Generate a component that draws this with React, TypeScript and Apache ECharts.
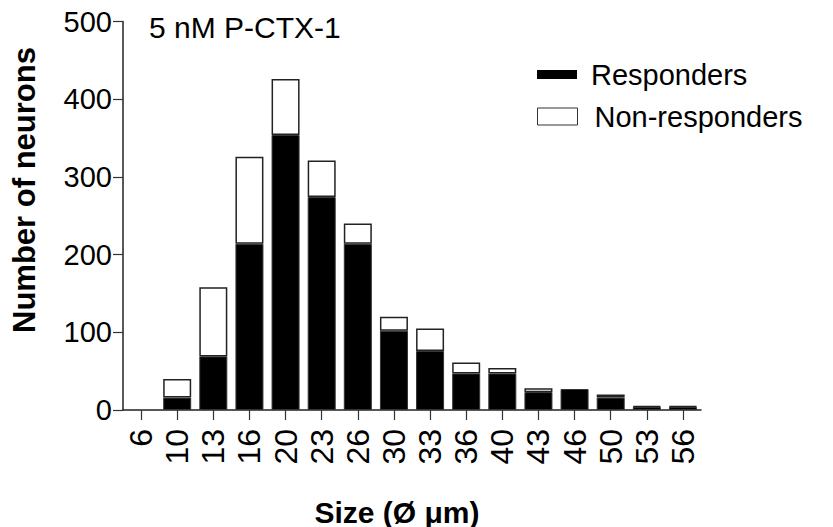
import React, { useEffect, useRef } from "react";
import * as echarts from "echarts";

const categories = ["6", "10", "13", "16", "20", "23", "26", "30", "33", "36", "40", "43", "46", "50", "53", "56"];
const responders = [0, 16, 69, 214, 354, 274, 214, 102, 76, 47, 47, 23, 27, 16, 4, 4];
const nonResponders = [0, 24, 89, 112, 72, 47, 26, 18, 29, 14, 7, 5, 0, 4, 1, 1];
const yTicks = { min: 0, max: 500, interval: 100 };

const FONT = "Liberation Sans, Arial, sans-serif";
const hideZero = (arr: number[]) => arr.map((v) => (v === 0 ? "-" : v));

export default function App() {
  const ref = useRef<HTMLDivElement>(null);
  useEffect(() => {
    document.body.style.margin = "0";
    if (!ref.current) return;
    const chart = echarts.init(ref.current, undefined, { renderer: "svg" });
    chart.setOption({
      animation: false,
      backgroundColor: "#fff",
      title: {
        text: "5 nM P-CTX-1",
        left: 144,
        top: 7,
        textStyle: { fontFamily: FONT, fontSize: 30, fontWeight: "normal", color: "#000" },
      },
      legend: [
        {
          data: [{ name: "Responders", itemStyle: { color: "#000", borderWidth: 0 } }],
          left: 532,
          top: 55,
          itemWidth: 40,
          itemHeight: 9,
          icon: "rect",
          textStyle: { fontFamily: FONT, fontSize: 29, color: "#000", padding: [0, 0, 0, 9] },
        },
        {
          data: ["Non-responders"],
          left: 532,
          top: 97,
          itemWidth: 40,
          itemHeight: 17,
          icon: "rect",
          itemStyle: { borderWidth: 1, borderColor: "#333" },
          textStyle: { fontFamily: FONT, fontSize: 29, color: "#000", padding: [0, 0, 0, 12] },
        },
      ],
      grid: { left: 123, right: 132, top: 21.5, bottom: 117, containLabel: false },
      xAxis: {
        type: "category",
        data: categories,
        axisLine: { show: true, lineStyle: { color: "#222", width: 1.5 } },
        axisTick: { show: true, alignWithLabel: true, length: 10, lineStyle: { color: "#333", width: 1.2 } },
        axisLabel: {
          rotate: 90,
          margin: 19,
          interval: 0,
          fontFamily: FONT,
          fontSize: 32,
          color: "#000",
        },
      },
      yAxis: {
        type: "value",
        min: yTicks.min,
        max: yTicks.max,
        interval: yTicks.interval,
        splitLine: { show: false },
        axisLine: { show: true, lineStyle: { color: "#222", width: 1.5 } },
        axisTick: { show: true, length: 10, lineStyle: { color: "#333", width: 1.2 } },
        axisLabel: { margin: 11, fontFamily: FONT, fontSize: 29, color: "#000" },
      },
      graphic: [
        {
          type: "text",
          x: 24,
          y: 190,
          rotation: Math.PI / 2,
          style: {
            text: "Number of neurons",
            font: `bold 31px ${FONT}`,
            fill: "#000",
            align: "center",
            verticalAlign: "middle",
          },
        },
        {
          type: "text",
          x: 397,
          y: 512,
          style: {
            text: "Size (Ø μm)",
            font: `bold 30px ${FONT}`,
            fill: "#000",
            align: "center",
            verticalAlign: "middle",
          },
        },
      ],
      series: [
        {
          name: "Responders",
          type: "bar",
          stack: "total",
          barWidth: 28,
          data: hideZero(responders),
          itemStyle: { color: "#000", borderColor: "#333", borderWidth: 1 },
        },
        {
          name: "Non-responders",
          type: "bar",
          stack: "total",
          barWidth: 28,
          data: hideZero(nonResponders),
          itemStyle: { color: "#fff", borderColor: "#222", borderWidth: 1.5 },
        },
      ],
    });
    return () => chart.dispose();
  }, []);
  return <div ref={ref} style={{ width: 833, height: 527 }} />;
}
